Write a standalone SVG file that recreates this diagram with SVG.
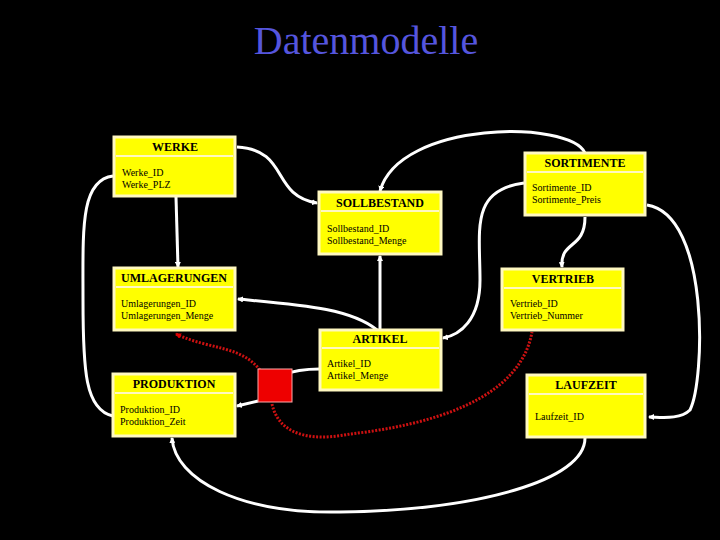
<svg xmlns="http://www.w3.org/2000/svg" width="720" height="540" viewBox="0 0 720 540">
<style>
.box{fill:#ffff00;stroke:#fff8c0;stroke-width:3}
.hd{fill:none;stroke:#fff8c0;stroke-width:2}
.t{font-family:"Liberation Serif",serif;font-weight:bold;font-size:12px;fill:#000;text-anchor:middle}
.f{font-family:"Liberation Serif",serif;font-size:10px;fill:#000}
.w{fill:none;stroke:#fff;stroke-width:3}
.r{fill:none;stroke:#cc1111;stroke-width:3;stroke-dasharray:2 1.5}
</style>
<defs>
<marker id="a" markerWidth="6" markerHeight="6" refX="5" refY="3" orient="auto" markerUnits="userSpaceOnUse" viewBox="0 0 6 6"><path d="M0,0L6,3L0,6z" fill="#fff"/></marker>
<marker id="ar" markerWidth="6" markerHeight="6" refX="5" refY="3" orient="auto" markerUnits="userSpaceOnUse" viewBox="0 0 6 6"><path d="M0,0L6,3L0,6z" fill="#dd0000"/></marker>
</defs>
<rect width="720" height="540" fill="#000"/>
<text x="366" y="54" font-family="Liberation Serif,serif" font-size="40" fill="#5555dd" text-anchor="middle">Datenmodelle</text>
<g id="connectors">
<path class="w" d="M237,147 C290,150 270,195 317,203" marker-end="url(#a)"/>
<path class="w" d="M585,153 C570,120 400,120 380,191" marker-end="url(#a)"/>
<path class="w" d="M585,217 C585,250 560,240 562,267" marker-end="url(#a)"/>
<path class="w" d="M524,183 C470,190 480,230 480,280 C480,320 460,335 443,338" marker-end="url(#a)"/>
<path class="w" d="M647,205 C710,215 705,380 690,410 C680,420 660,417 649,417" marker-end="url(#a)"/>
<path class="w" d="M176,197 L178,267" marker-end="url(#a)"/>
<path class="w" d="M380,330 L380,256" marker-end="url(#a)"/>
<path class="w" d="M377,330 C350,308 300,305 238,299" marker-end="url(#a)"/>
<path class="w" d="M320,369 C300,369 290,372 283,375"/>
<path class="w" d="M258,401 L237,406" marker-end="url(#a)"/>
<path class="w" d="M585,438 C585,480 480,510 340,512 C240,514 175,480 172,438" marker-end="url(#a)"/>
<path class="w" d="M113,176 C80,180 83,230 83,300 C83,370 85,410 113,416"/>
<path class="r" d="M260,370 C240,345 210,350 176,334" marker-end="url(#ar)"/>
<path class="r" d="M272,404 C280,440 320,440 350,434 C430,425 520,400 532,332"/>
</g>
<g id="WERKE"><rect class="box" x="114" y="137" width="121" height="59"/><line class="hd" x1="116" y1="156" x2="233" y2="156"/><text class="t" x="175" y="151">WERKE</text><text class="f" x="122" y="176">Werke_ID</text><text class="f" x="122" y="188">Werke_PLZ</text></g>
<g id="SOLLBESTAND"><rect class="box" x="319" y="192" width="122" height="62"/><line class="hd" x1="321" y1="211" x2="439" y2="211"/><text class="t" x="380" y="207">SOLLBESTAND</text><text class="f" x="327" y="232">Sollbestand_ID</text><text class="f" x="327" y="244">Sollbestand_Menge</text></g>
<g id="SORTIMENTE"><rect class="box" x="525" y="153" width="120" height="62"/><line class="hd" x1="527" y1="172" x2="643" y2="172"/><text class="t" x="585" y="167">SORTIMENTE</text><text class="f" x="532" y="191">Sortimente_ID</text><text class="f" x="532" y="203">Sortimente_Preis</text></g>
<g id="UMLAGERUNGEN"><rect class="box" x="114" y="268" width="121" height="62"/><line class="hd" x1="116" y1="287" x2="233" y2="287"/><text class="t" x="174" y="282">UMLAGERUNGEN</text><text class="f" x="121" y="307">Umlagerungen_ID</text><text class="f" x="121" y="319">Umlagerungen_Menge</text></g>
<g id="VERTRIEB"><rect class="box" x="502" y="269" width="121" height="61"/><line class="hd" x1="504" y1="288" x2="621" y2="288"/><text class="t" x="563" y="283">VERTRIEB</text><text class="f" x="510" y="307">Vertrieb_ID</text><text class="f" x="510" y="319">Vertrieb_Nummer</text></g>
<g id="ARTIKEL"><rect class="box" x="320" y="330" width="121" height="60"/><line class="hd" x1="322" y1="348" x2="439" y2="348"/><text class="t" x="380" y="343">ARTIKEL</text><text class="f" x="327" y="367">Artikel_ID</text><text class="f" x="327" y="379">Artikel_Menge</text></g>
<g id="PRODUKTION"><rect class="box" x="113" y="374" width="122" height="62"/><line class="hd" x1="115" y1="393" x2="233" y2="393"/><text class="t" x="174" y="388">PRODUKTION</text><text class="f" x="120" y="413">Produktion_ID</text><text class="f" x="120" y="425">Produktion_Zeit</text></g>
<g id="LAUFZEIT"><rect class="box" x="527" y="375" width="118" height="62"/><line class="hd" x1="529" y1="394" x2="643" y2="394"/><text class="t" x="586" y="389">LAUFZEIT</text><text class="f" x="535" y="420">Laufzeit_ID</text></g>
<g id="redbox"><rect x="258" y="369" width="34" height="33" fill="#ee0000" stroke="#ffaaaa" stroke-width="1"/></g>
</svg>
